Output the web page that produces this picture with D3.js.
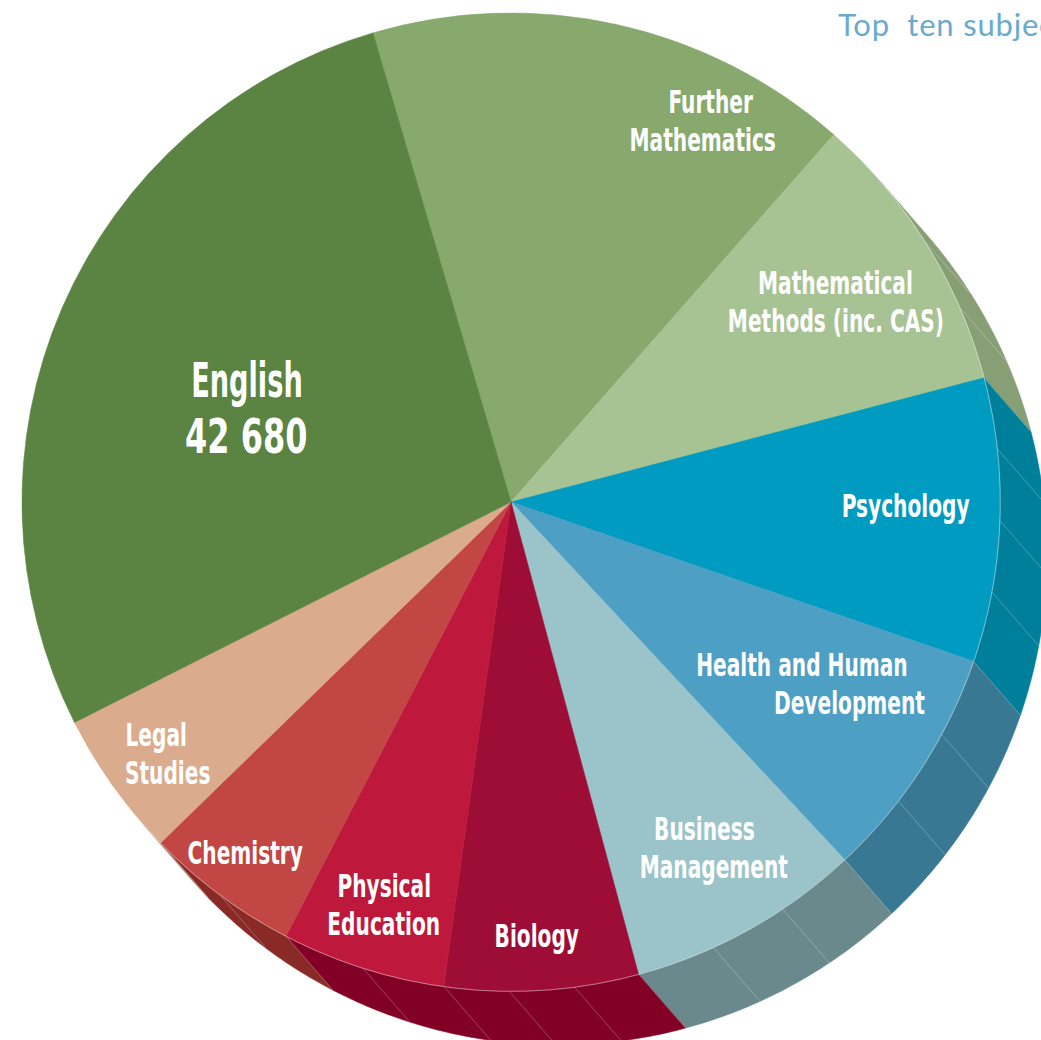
<!DOCTYPE html>
<html>
<head>
<meta charset="utf-8">
<script src="https://cdn.jsdelivr.net/npm/d3@7"></script>
<style>
  html, body { margin: 0; padding: 0; background: #fff; }
  svg { display: block; }
  .label { font-family: "Liberation Sans Narrow", "DejaVu Sans Condensed", sans-serif; font-weight: bold; fill: #fff; }
  .title { font-family: Lato, "Open Sans", sans-serif; fill: #6aaacd; white-space: pre; letter-spacing: 0.8px; }
</style>
</head>
<body>
<div class="container"></div>
<script>
// VCE top ten subjects, enrolments (clockwise from the top)
const subjects = ['Further Mathematics', 'Mathematical Methods (inc. CAS)', 'Psychology',
    'Health and Human Development', 'Business Management', 'Biology',
    'Physical Education', 'Chemistry', 'Legal Studies', 'English'];
const enrolments = [24530, 14450, 14330, 11900, 11860, 9780, 8290, 7820, 7400, 42680];
const labelLines = [['Further', 'Mathematics'], ['Mathematical', 'Methods (inc. CAS)'], ['Psychology'],
    ['Health and Human', 'Development'], ['Business', 'Management'], ['Biology'],
    ['Physical', 'Education'], ['Chemistry'], ['Legal', 'Studies'], ['English']];
const titleText = 'Top  ten subjects';

const WIDTH = 1041,
    HEIGHT = 1040,
    CX = 511,
    CY = 502,
    RADIUS = 489,
    DEPTH = [47, 54],
    START = -16.4 * Math.PI / 180;

const topColours = ['#88a96d', '#a7c393', '#009bc0', '#4e9fc4', '#9bc4ca',
    '#9e0d35', '#be193c', '#c14644', '#dbab8e', '#5b8341'];
const sideColours = ['#6f8a58', '#889f76', '#007f9b', '#397893', '#6a898c',
    '#820026', '#820026', '#892a27', '#a8836c', '#486a33'];

// label placement: radius as share of the pie radius, angle nudge in degrees, per-line x nudge
const labelPlace = [
    {r: 0.877, da: 14.7, dx: [4, -4]},
    {r: 0.781, da: 0, dx: [-0.5, 0]},
    {r: 0.807, da: -1.7, dx: [0]},
    {r: 0.743, da: -3.1, dx: [-24, 23.5]},
    {r: 0.814, da: -0.75, dx: [-4.5, 5]},
    {r: 0.887, da: 0.2, dx: [0]},
    {r: 0.862, da: -0.15, dx: [0, -0.5]},
    {r: 0.899, da: 0.6, dx: [0]},
    {r: 0.879, da: -0.25, dx: [-6, 5.5]},
    {r: 0.574, da: -3.7, dx: [0.2, -0.5]}
];

var polar = (a, r) => [r * Math.sin(a), -r * Math.cos(a)];

var svg = d3.select('.container').append('svg')
    .attr('width', WIDTH)
    .attr('height', HEIGHT);

var g = svg.append('g').attr('transform', `translate(${CX},${CY})`);

var pie = d3.pie().sort(null)
    .startAngle(START)
    .endAngle(START + 2 * Math.PI);
var slices = pie(enrolments);

var arc = d3.arc().innerRadius(0).outerRadius(RADIUS);

// side of the disc, only where it faces the viewer
var offAngle = Math.atan2(DEPTH[0], -DEPTH[1]);
var visFrom = offAngle - Math.PI / 2,
    visTo = offAngle + Math.PI / 2;

var facets = [];
slices.forEach((s, i) => {
    var a0 = Math.max(s.startAngle, visFrom),
        a1 = Math.min(s.endAngle, visTo);
    if (a1 <= a0) return;
    var n = Math.max(1, Math.round((a1 - a0) / (9 * Math.PI / 180)));
    for (var k = 0; k < n; k++) {
        facets.push({i: i, a0: a0 + (a1 - a0) * k / n, a1: a0 + (a1 - a0) * (k + 1) / n});
    }
});

var facetPath = (f) => {
    var pts = [];
    var steps = Math.max(2, Math.ceil((f.a1 - f.a0) / 0.01));
    for (var j = 0; j <= steps; j++) pts.push(polar(f.a0 + (f.a1 - f.a0) * j / steps, RADIUS));
    for (var j = steps; j >= 0; j--) {
        var p = polar(f.a0 + (f.a1 - f.a0) * j / steps, RADIUS);
        pts.push([p[0] + DEPTH[0], p[1] + DEPTH[1]]);
    }
    return d3.line().curve(d3.curveLinearClosed)(pts);
};

var side = g.append('g').classed('side', true);

side.selectAll('path.face')
    .data(facets)
    .enter().append('path')
    .classed('face', true)
    .attr('d', facetPath)
    .attr('fill', (d) => sideColours[d.i])
    .attr('stroke', (d) => sideColours[d.i])
    .attr('stroke-width', 0.6);

// thin light seams between the facets
side.selectAll('line.seam')
    .data(facets.slice(1))
    .enter().append('line')
    .classed('seam', true)
    .attr('x1', (d) => polar(d.a0, RADIUS)[0])
    .attr('y1', (d) => polar(d.a0, RADIUS)[1])
    .attr('x2', (d) => polar(d.a0, RADIUS)[0] + DEPTH[0])
    .attr('y2', (d) => polar(d.a0, RADIUS)[1] + DEPTH[1])
    .attr('stroke', 'rgba(255,255,255,0.3)')
    .attr('stroke-width', 0.7);

g.append('g').classed('top', true)
    .selectAll('path')
    .data(slices)
    .enter().append('path')
    .attr('d', arc)
    .attr('fill', (d, i) => topColours[i])
    .attr('stroke', (d, i) => topColours[i])
    .attr('stroke-width', 0.6);

// light rim where the top meets the side
g.append('path')
    .attr('d', d3.arc().innerRadius(RADIUS).outerRadius(RADIUS)
        .startAngle(visFrom).endAngle(visTo)())
    .attr('fill', 'none')
    .attr('stroke', 'rgba(255,255,255,0.3)')
    .attr('stroke-width', 0.8);

// labels
var fmt = (v) => d3.format(',')(v).replace(/,/g, ' ');

slices.forEach((s, i) => {
    var lines = labelLines[i].slice();
    var big = subjects[i] === 'English';
    if (big) lines.push(fmt(enrolments[i]));
    var place = labelPlace[i];
    var mid = (s.startAngle + s.endAngle) / 2 + place.da * Math.PI / 180;
    var c = polar(mid, place.r * RADIUS);
    var size = big ? 48 : 32,
        cap = big ? 35 : 23.5,
        lineH = big ? 56.3 : 38.3;
    lines.forEach((t, j) => {
        var y = c[1] + cap / 2 + (j - (lines.length - 1) / 2) * lineH;
        var x = c[0] + (place.dx[j] || 0);
        var squeeze = /^[0-9 ]+$/.test(t) ? 0.74 : (big ? 0.63 : 0.7);
        g.append('text')
            .classed('label', true)
            .attr('text-anchor', 'middle')
            .attr('font-size', size)
            .attr('transform', `translate(${x},${y}) scale(${squeeze},1)`)
            .text(t);
    });
});

svg.append('text')
    .classed('title', true)
    .attr('x', 838)
    .attr('y', 36)
    .attr('font-size', 31)
    .text(titleText);
</script>
</body>
</html>
